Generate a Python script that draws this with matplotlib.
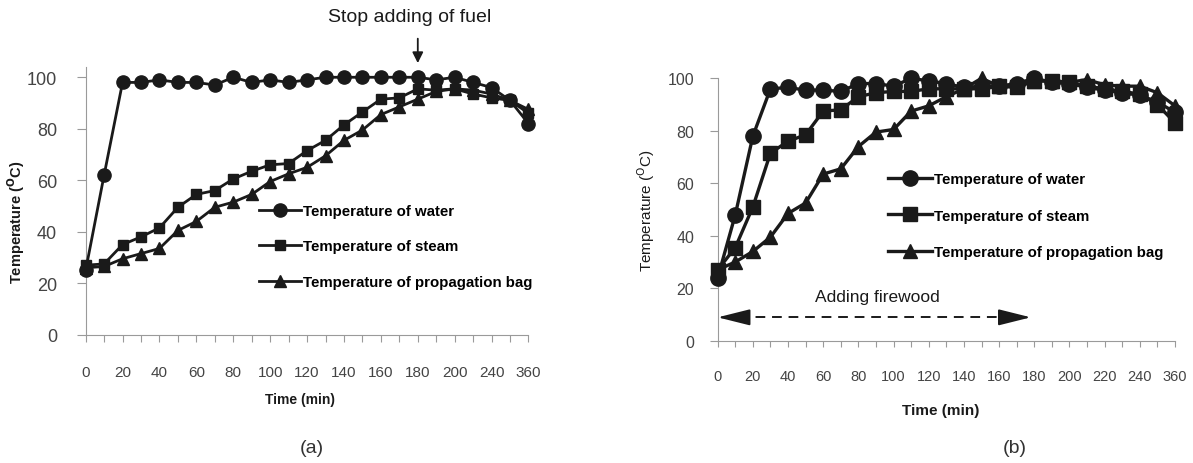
import numpy as np
import matplotlib
matplotlib.use('Agg')
import matplotlib.pyplot as plt

plt.rcParams['font.family'] = ['Liberation Sans', 'DejaVu Sans']

# (a) readings, one per category (labels shown on every other category)
time_a = [0, 10, 20, 30, 40, 50, 60, 70, 80, 90, 100, 110, 120, 130, 140, 150, 160, 170, 180, 190, 200,
          220, 240, 300, 360]
water_a = [25, 62, 98, 98, 99, 98, 98, 97, 100, 98, 99, 98, 99, 100, 100, 100, 100, 100, 100, 99, 100,
           98, 96, 91, 82]
steam_a = [27, 27.5, 35, 38, 41.5, 49.5, 54.5, 56, 60.5, 63.5, 66, 66.5, 71.5, 75.5, 81.5, 86.5, 91.5, 92,
           95.5, 95, 95.5, 93.5, 92, 91, 86]
bag_a = [26, 26.5, 29.5, 31.5, 33.5, 40.5, 44, 49.5, 51.5, 54.5, 59.5, 62.5, 65, 69.5, 75.5, 79.5, 85.5,
         88.5, 91.5, 94.5, 95.5, 95, 93.5, 91, 87.5]

# (b) readings
time_b = [0, 10, 20, 30, 40, 50, 60, 70, 80, 90, 100, 110, 120, 130, 140, 150, 160, 170, 180, 190, 200,
          210, 220, 230, 240, 250, 360]
water_b = [24, 48, 78, 96, 96.5, 95.5, 95.5, 95, 98, 98, 97, 100, 99, 98, 96.5, 97, 97, 98, 100, 98.5, 98,
           96.5, 95.5, 94.5, 93.5, 91, 87]
steam_b = [27, 35.5, 51, 71.5, 76, 78.5, 87.5, 88, 93, 94.5, 95, 95, 96, 96, 96, 96, 97, 96.5, 99, 99, 98.5,
           97, 96, 95, 94, 90, 83]
bag_b = [27, 30, 34, 39.5, 48.5, 52.5, 63.5, 65.5, 74, 79.5, 80.5, 87.5, 89.5, 93, 96, 100, 97, 97, 99, 99,
         98.5, 99.5, 97.5, 97, 97, 94.5, 89.5]

labels = ['Temperature of water', 'Temperature of steam', 'Temperature of propagation bag']
ink = '#1a1a1a'
grey = '#9a9a9a'

fig = plt.figure(figsize=(11.93, 4.64), dpi=100)
ax1 = fig.add_axes([0.0718, 0.2765, 0.3712, 0.577])
ax2 = fig.add_axes([0.6016, 0.2636, 0.3833, 0.5655])


def style(ax, times, ymax, xpad, ypad, xsize, ysize, xlen, ylen):
    n = len(times)
    ax.set_xlim(0, n - 1)
    ax.set_ylim(0, ymax)
    ax.set_xticks(range(n))
    ax.set_xticklabels([str(t) if i % 2 == 0 else '' for i, t in enumerate(times)])
    ax.set_yticks(range(0, 101, 20))
    for s in ['top', 'right']:
        ax.spines[s].set_visible(False)
    for s in ['left', 'bottom']:
        ax.spines[s].set_color(grey)
    ax.tick_params(axis='x', colors=grey, labelcolor='#444444', labelsize=xsize, pad=xpad, length=xlen)
    ax.tick_params(axis='y', colors=grey, labelcolor='#444444', labelsize=ysize, pad=ypad, length=ylen)


# panel (a)
x = np.arange(len(time_a))
ax1.plot(x, water_a, '-o', color=ink, lw=2, ms=9.5, clip_on=False, zorder=5, label=labels[0])
ax1.plot(x, steam_a, '-s', color=ink, lw=2, ms=7.5, clip_on=False, zorder=4, label=labels[1])
ax1.plot(x, bag_a, '-^', color=ink, lw=2, ms=8, clip_on=False, zorder=3, label=labels[2])
style(ax1, time_a, 104, 17, 14, 11, 13, 5, 6.5)
ax1.set_ylabel(r'Temperature ($\mathbf{^{O}}$C)', fontsize=10.5, fontweight='bold', color=ink)
ax1.yaxis.set_label_coords(-0.133, 0.425)
ax1.set_xlabel('Time (min)', fontsize=10, fontweight='bold', color=ink)
ax1.xaxis.set_label_coords(0.484, -0.214)
ax1.legend(loc='center left', bbox_to_anchor=(259 / 1193, 1 - 247.5 / 464), bbox_transform=fig.transFigure,
           frameon=False, prop={'weight': 'bold', 'size': 10.8}, handlelength=2.8,
           handletextpad=0.15, labelspacing=1.42, borderpad=0, borderaxespad=0)
ax1.annotate('', xy=(18, 105.5), xytext=(18, 115), annotation_clip=False,
             arrowprops=dict(arrowstyle='-|>', color=ink, lw=1.3, mutation_scale=16, shrinkA=0, shrinkB=0))
fig.text(410 / 1193, 1 - 18 / 464, 'Stop adding of fuel', ha='center', va='center', fontsize=14, color=ink)

# panel (b)
x = np.arange(len(time_b))
ax2.plot(x, water_b, '-o', color=ink, lw=2.4, ms=11, clip_on=False, zorder=5, label=labels[0])
ax2.plot(x, steam_b, '-s', color=ink, lw=2.4, ms=10.5, clip_on=False, zorder=4, label=labels[1])
ax2.plot(x, bag_b, '-^', color=ink, lw=2.4, ms=10.5, clip_on=False, zorder=3, label=labels[2])
style(ax2, time_b, 100, 16, 11.5, 10.5, 11.5, 4.5, 5.5)
ax2.set_ylabel(r'Temperature ($^{\mathrm{O}}$C)', fontsize=11, color=ink)
ax2.yaxis.set_label_coords(-0.133, 0.498)
ax2.set_xlabel('Time (min)', fontsize=11, fontweight='bold', color=ink)
ax2.xaxis.set_label_coords(0.488, -0.237)
ax2.legend(loc='center left', bbox_to_anchor=(888 / 1193, 1 - 216.7 / 464), bbox_transform=fig.transFigure,
           frameon=False, prop={'weight': 'bold', 'size': 10.8}, handlelength=2.9,
           handletextpad=0.15, labelspacing=1.52, borderpad=0, borderaxespad=0)
ax2.text(9.1, 16.7, 'Adding firewood', ha='center', va='center', fontsize=12.5, color=ink)
# dashed shaft plus two solid heads
ax2.plot([1.2, 16.6], [8.9, 8.9], '--', color=ink, lw=1.4, dashes=(5, 3.5))
head = dict(arrowstyle='-|>,head_length=1.0,head_width=0.25', color=ink, lw=1.4, mutation_scale=20,
            shrinkA=0, shrinkB=0)
ax2.annotate('', xy=(0, 8.9), xytext=(1.6, 8.9), arrowprops=head, annotation_clip=False)
ax2.annotate('', xy=(17.8, 8.9), xytext=(16.2, 8.9), arrowprops=head, annotation_clip=False)

fig.text(312 / 1193, 1 - 449 / 464, '(a)', ha='center', va='center', fontsize=14, color='#333333')
fig.text(1015 / 1193, 1 - 449 / 464, '(b)', ha='center', va='center', fontsize=14, color='#333333')

fig.savefig('out.png', dpi=100)
